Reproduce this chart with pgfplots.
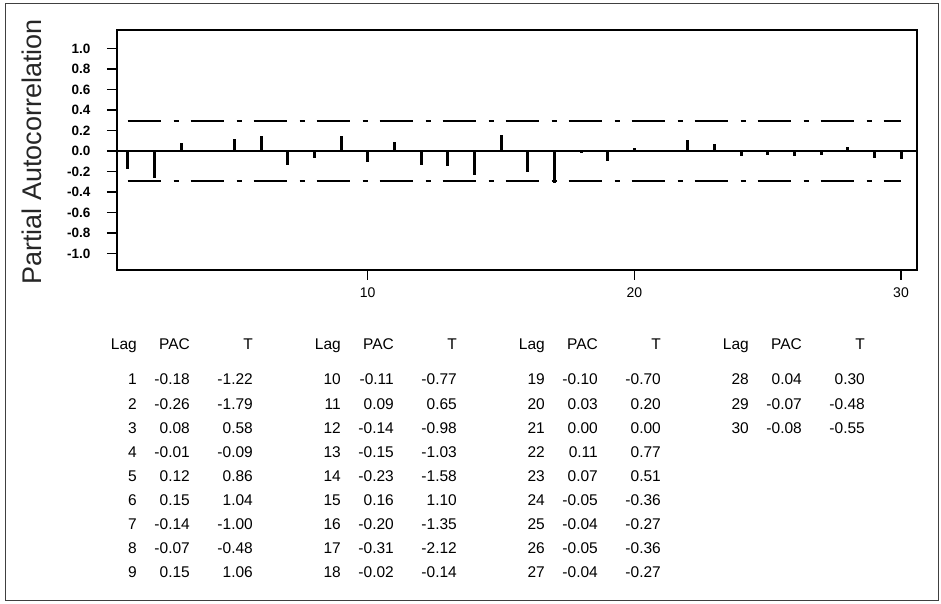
\documentclass[border=0pt]{standalone}
\usepackage{pgfplots}
\pgfplotsset{compat=1.18}
\usepackage{pgfplotstable}
\usepackage{fontspec}
\setmainfont{Liberation Sans}

\pgfplotstableread{
lag pac t
1 -0.18 -1.22
2 -0.26 -1.79
3 0.08 0.58
4 -0.01 -0.09
5 0.12 0.86
6 0.15 1.04
7 -0.14 -1.00
8 -0.07 -0.48
9 0.15 1.06
10 -0.11 -0.77
11 0.09 0.65
12 -0.14 -0.98
13 -0.15 -1.03
14 -0.23 -1.58
15 0.16 1.10
16 -0.20 -1.35
17 -0.31 -2.12
18 -0.02 -0.14
19 -0.10 -0.70
20 0.03 0.20
21 0.00 0.00
22 0.11 0.77
23 0.07 0.51
24 -0.05 -0.36
25 -0.04 -0.27
26 -0.05 -0.36
27 -0.04 -0.27
28 0.04 0.30
29 -0.07 -0.48
30 -0.08 -0.55
}\pacdata

\begin{document}
\begin{tikzpicture}[x=1pt,y=1pt]
\path[fill=white] (0,0) rectangle (941,604);
\draw[line width=1pt, black!75] (5,3) rectangle (938,600);
\begin{axis}[
  at={(117pt,334pt)}, anchor=south west,
  scale only axis, width=800pt, height=240pt,
  xmin=0.6, xmax=30.6, ymin=-1.16, ymax=1.18,
  axis line style={line width=1.5pt},
  xtick={10,20,30},
  ytick={-1,-0.8,-0.6,-0.4,-0.2,0,0.2,0.4,0.6,0.8,1},
  tick style={black, line width=1.3pt},
  major tick length=10pt,
  tick align=outside,
  xtick pos=bottom, ytick pos=left,
  /pgf/number format/assume math mode=true,
  yticklabel style={font=\fontsize{13.5}{13.5}\selectfont\bfseries,
    /pgf/number format/fixed, /pgf/number format/fixed zerofill,
    /pgf/number format/precision=1, xshift=-13pt},
  xticklabel style={font=\fontsize{14}{14}\selectfont, yshift=-4pt},
  clip=false,
]
\addplot[black, line width=1.6pt] coordinates {(0.6,0) (30.6,0)};
\addplot[black, line width=2.3pt, dash pattern=on 33pt off 13pt on 5pt off 12pt] coordinates {(1,0.29) (30,0.29)};
\addplot[black, line width=2.3pt, dash pattern=on 33pt off 13pt on 5pt off 12pt] coordinates {(1,-0.29) (30,-0.29)};
\addplot[ycomb, black, line width=3pt, mark=none] table[x=lag, y=pac] {\pacdata};
\end{axis}
\node[rotate=90, font=\fontsize{27}{27}\selectfont, text=black!85] at (32,452) {Partial Autocorrelation};
\foreach \b in {0,1,2,3} {
  \pgfmathsetmacro{\xl}{137+204*\b}
  \node[anchor=base east, inner sep=0, font=\fontsize{15.5}{15.5}\selectfont] at (\xl,254) {Lag};
  \node[anchor=base east, inner sep=0, font=\fontsize{15.5}{15.5}\selectfont] at (\xl+53,254) {PAC};
  \node[anchor=base east, inner sep=0, font=\fontsize{15.5}{15.5}\selectfont] at (\xl+116,254) {T};
}
\foreach \i in {0,...,29} {
  \pgfmathtruncatemacro{\blk}{floor(\i/9)}
  \pgfmathtruncatemacro{\row}{mod(\i,9)}
  \pgfmathsetmacro{\xl}{137+204*\blk}
  \pgfmathsetmacro{\yy}{604-385-24.1*\row}
  \pgfplotstablegetelem{\i}{lag}\of\pacdata \let\vlag\pgfplotsretval
  \pgfplotstablegetelem{\i}{pac}\of\pacdata \let\vpac\pgfplotsretval
  \pgfplotstablegetelem{\i}{t}\of\pacdata \let\vt\pgfplotsretval
  \node[anchor=base east, inner sep=0, font=\fontsize{15.5}{15.5}\selectfont] at (\xl,\yy) {\vlag};
  \node[anchor=base east, inner sep=0, font=\fontsize{15.5}{15.5}\selectfont] at (\xl+53,\yy) {\vpac};
  \node[anchor=base east, inner sep=0, font=\fontsize{15.5}{15.5}\selectfont] at (\xl+116,\yy) {\vt};
}
\end{tikzpicture}
\end{document}
